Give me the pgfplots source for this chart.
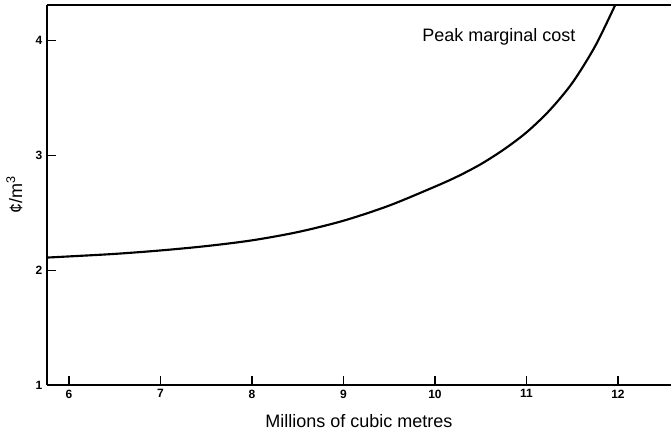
\documentclass[border=0pt]{standalone}
\usepackage{pgfplots}
\pgfplotsset{compat=1.18}
\usepackage{fontspec}
\setmainfont{Liberation Sans}

\begin{document}
\begin{tikzpicture}
\begin{axis}[
    name=ax,
    scale only axis,
    width=468pt, height=285pt,
    xmin=5.76, xmax=12.58,
    ymin=1, ymax=4.31,
    axis x line*=box, axis y line*=left,
    axis line style={-, line width=0.9pt},
    xtick={6,7,8,9,10,11,12},
    ytick={1,2,3,4},
    xtick pos=left, ytick pos=left,
    tick align=inside,
    major tick length=7pt,
    tick style={line width=0.9pt, black},
    /pgf/number format/assume math mode=true,
    ticklabel style={font=\bfseries\fontsize{9}{10}\selectfont},
    xlabel={Millions of cubic metres},
    ylabel={¢/m\textsuperscript{3}},
    label style={font=\fontsize{13.5}{15}\selectfont},
    xlabel style={yshift=-5pt},
    ylabel style={yshift=3pt},
    clip=false,
]
% peak marginal cost curve
\addplot[black, line width=1.6pt, smooth] coordinates {
    (5.76,2.11) (6,2.12) (6.5,2.142) (7,2.172) (7.5,2.21) (8,2.26)
    (8.5,2.332) (9,2.431) (9.5,2.563) (10,2.728) (10.25,2.818)
    (10.5,2.923) (10.75,3.05) (11,3.20) (11.25,3.39) (11.5,3.63)
    (11.75,3.95) (11.97,4.31)
};
\node[font=\fontsize{13.5}{15}\selectfont] at (axis cs:10.7,4.03) {Peak marginal cost};
\end{axis}
\pgfresetboundingbox
\path ([xshift=-35.25pt,yshift=-41.25pt]ax.south west) rectangle ([yshift=3.75pt]ax.north east);
\end{tikzpicture}
\end{document}
